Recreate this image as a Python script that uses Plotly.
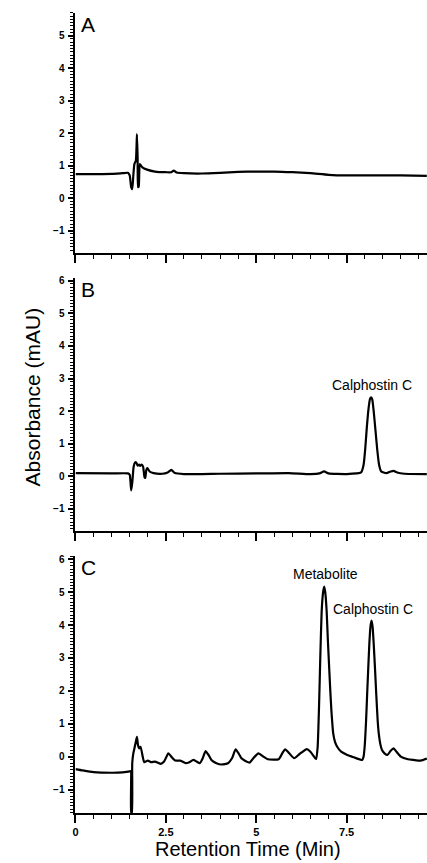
import plotly.graph_objects as go

# ---- data ----
time_a = [0, 0.5, 1.0, 1.3, 1.45, 1.50, 1.54, 1.57, 1.60, 1.63, 1.67, 1.70, 1.72, 1.73, 1.75, 1.78,
          1.85, 1.98, 2.2, 2.5, 2.65, 2.72, 2.8, 3.0, 3.5, 4.0, 4.5, 5.0, 5.5, 6.0, 6.5, 7.0, 7.5,
          8.0, 8.5, 9.0, 9.72]
abs_a = [0.74, 0.74, 0.75, 0.77, 0.78, 0.70, 0.34, 0.28, 0.70, 1.05, 1.15, 1.97, 1.2, 0.34, 0.36, 1.05,
         0.95, 0.88, 0.82, 0.80, 0.80, 0.85, 0.79, 0.77, 0.76, 0.78, 0.81, 0.82, 0.82, 0.80, 0.77, 0.72, 0.70,
         0.70, 0.70, 0.70, 0.69]

time_b = [0, 1.0, 1.45, 1.50, 1.54, 1.57, 1.61, 1.65, 1.68, 1.72, 1.76, 1.79, 1.83, 1.87, 1.91, 1.93,
          1.96, 1.99, 2.05, 2.16, 2.4, 2.55, 2.65, 2.75, 3.0, 3.5, 4.0, 5.0, 5.9, 6.5, 6.75, 6.88, 7.0,
          7.5, 7.9, 7.97, 8.02, 8.06, 8.11, 8.15, 8.18, 8.21, 8.25, 8.30, 8.35, 8.40, 8.46, 8.6, 8.72,
          8.8, 8.9, 9.1, 9.72]
abs_b = [0.10, 0.09, 0.09, 0.05, -0.43, -0.2, 0.30, 0.43, 0.43, 0.33, 0.36, 0.32, 0.36, 0.30, -0.03, -0.05,
         0.2, 0.25, 0.15, 0.10, 0.08, 0.12, 0.20, 0.10, 0.07, 0.07, 0.08, 0.09, 0.10, 0.07, 0.09, 0.15, 0.09,
         0.07, 0.12, 0.35, 0.9, 1.5, 2.1, 2.38, 2.42, 2.36, 2.0, 1.4, 0.8, 0.35, 0.15, 0.10, 0.15,
         0.17, 0.12, 0.08, 0.07]

time_c = [0, 0.2, 0.5, 1.0, 1.3, 1.5, 1.53, 1.54, 1.56, 1.57, 1.60, 1.64, 1.67, 1.70, 1.73, 1.76, 1.80,
          1.86, 1.9, 2.0, 2.1, 2.2, 2.35, 2.45, 2.57, 2.65, 2.76, 2.9, 3.05, 3.15, 3.26, 3.35, 3.44,
          3.52, 3.6, 3.68, 3.76, 3.9, 4.04, 4.22, 4.33, 4.43, 4.5, 4.59, 4.7, 4.82, 4.92, 5.06, 5.2,
          5.32, 5.62, 5.72, 5.8, 5.9, 6.05, 6.2, 6.4, 6.5, 6.62, 6.66, 6.70, 6.74, 6.77, 6.81, 6.85,
          6.88, 6.91, 6.95, 6.98, 7.01, 7.05, 7.08, 7.13, 7.18, 7.24, 7.35, 7.52, 7.7, 7.93, 7.97, 8.00,
          8.04, 8.07, 8.10, 8.13, 8.16, 8.19, 8.22, 8.25, 8.29, 8.32, 8.36, 8.39, 8.44, 8.48, 8.55, 8.63,
          8.72, 8.8, 8.88, 9.0, 9.2, 9.35, 9.55, 9.72]
abs_c = [-0.38, -0.42, -0.47, -0.49, -0.48, -0.45, -0.44, -1.7, -1.7, -0.2, 0.10, 0.30, 0.45, 0.60, 0.35, 0.25, 0.30,
         0.0, -0.17, -0.12, -0.17, -0.15, -0.22, -0.15, 0.10, 0.0, -0.12, -0.12, -0.2, -0.17, -0.10, -0.15, -0.2,
         -0.05, 0.17, 0.05, -0.1, -0.2, -0.24, -0.2, -0.05, 0.22, 0.12, -0.05, -0.13, -0.18, -0.05, 0.10, 0.0,
         -0.08, -0.08, 0.1, 0.22, 0.12, -0.05, 0.08, 0.23, 0.15, -0.03, -0.07, 0.3, 1.6, 2.9, 4.4, 5.0,
         5.17, 5.0, 4.4, 3.6, 2.9, 2.0, 1.4, 0.71, 0.45, 0.3, 0.15, 0.05, -0.02, -0.1, 0.0, 0.3,
         1.1, 1.92, 2.7, 3.44, 3.95, 4.14, 3.95, 3.44, 2.6, 1.92, 1.1, 0.71, 0.35, 0.2, 0.1, 0.05,
         0.18, 0.25, 0.15, 0.0, -0.08, -0.1, -0.12, -0.06]

x_ticks = [0, 2.5, 5, 7.5]
x_tick_text = ["0", "2.5", "5", "7.5"]
y_ticks = [-1, 0, 1, 2, 3, 4, 5, 6]
panel_letters = ["A", "B", "C"]
peak_labels = [("Calphostin C", 8.2, 2.81, 2), ("Metabolite", 6.92, 5.56, 3), ("Calphostin C", 8.24, 4.5, 3)]

W, H = 427, 863
FONT = "Arial, Liberation Sans, sans-serif"

fig = go.Figure()
for i, (xs, ys) in enumerate([(time_a, abs_a), (time_b, abs_b), (time_c, abs_c)], start=1):
    fig.add_trace(go.Scatter(x=xs, y=ys, mode="lines",
                             line=dict(color="black", width=2.2, shape="spline", smoothing=0.5),
                             xaxis=f"x{i}" if i > 1 else "x", yaxis=f"y{i}" if i > 1 else "y",
                             showlegend=False, hoverinfo="skip"))

# pixel geometry
x_dom = [73 / W, 1]
panels = [(10, 251, [-1.69, 5.7]), (276, 530, [-1.68, 6.08]), (555, 813, [-1.72, 6.1])]

layout = dict(width=W, height=H, margin=dict(l=0, r=0, t=0, b=0),
              paper_bgcolor="white", plot_bgcolor="white", showlegend=False,
              font=dict(family=FONT, color="black"))
for i, (top, bot, yr) in enumerate(panels, start=1):
    sx = "" if i == 1 else str(i)
    layout[f"xaxis{sx}"] = dict(
        domain=x_dom, range=[0, 9.725], anchor=f"y{sx}",
        showline=True, linecolor="black", linewidth=2, showgrid=False, zeroline=False,
        ticks="outside", tickvals=x_ticks, ticktext=x_tick_text, ticklen=8, tickwidth=1.5, tickcolor="black",
        showticklabels=(i == 3), tickfont=dict(size=11, family=FONT, weight="bold"),
        minor=dict(dtick=0.5, tick0=0, ticks="outside", ticklen=4, tickwidth=1.2, tickcolor="black"),
        fixedrange=True)
    layout[f"yaxis{sx}"] = dict(
        domain=[1 - bot / H, 1 - top / H], range=yr, anchor=f"x{sx}",
        showline=True, linecolor="black", linewidth=2, showgrid=False, zeroline=False,
        ticks="outside", tickvals=y_ticks, ticklen=5, tickwidth=1.5, tickcolor="black",
        tickfont=dict(size=10, family=FONT, weight="bold"), ticklabelstandoff=2,
        minor=dict(dtick=0.1, tick0=0, ticks="outside", ticklen=3, tickwidth=1.2, tickcolor="black"),
        fixedrange=True)

annotations = []
for letter, (top, bot, yr) in zip(panel_letters, panels):
    annotations.append(dict(text=letter, x=77 / W, y=1 - (top - 2) / H, xref="paper", yref="paper",
                            xanchor="left", yanchor="top", showarrow=False,
                            font=dict(size=21, family=FONT, color="black")))
for text, xv, yv, p in peak_labels:
    annotations.append(dict(text=text, x=xv, y=yv, xref=f"x{p}", yref=f"y{p}",
                            xanchor="center", yanchor="middle", showarrow=False,
                            font=dict(size=14, family=FONT, color="black")))
annotations.append(dict(text="Absorbance (mAU)", x=30 / W, y=1 - 395 / H, xref="paper", yref="paper",
                        textangle=-90, xanchor="center", yanchor="middle", showarrow=False,
                        font=dict(size=21, family=FONT, color="black")))
annotations.append(dict(text="Retention Time (Min)", x=247 / W, y=1 / H, xref="paper", yref="paper",
                        xanchor="center", yanchor="bottom", showarrow=False,
                        font=dict(size=20, family=FONT, color="black")))
layout["annotations"] = annotations
fig.update_layout(**layout)
fig.write_html("out.html")
